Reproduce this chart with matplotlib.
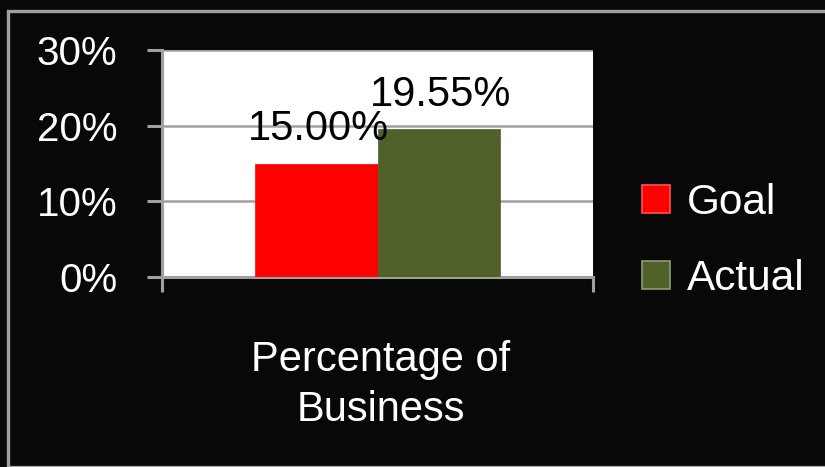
import matplotlib

matplotlib.use("Agg")
import matplotlib.pyplot as plt
from matplotlib.patches import Patch, Rectangle
from matplotlib.ticker import PercentFormatter

series = ["Goal", "Actual"]
values = [0.15, 0.1955]
value_labels = ["15.00%", "19.55%"]
category = "Percentage of\nBusiness"
colors = ["#ff0000", "#4f6128"]

FONT = ["Liberation Sans", "DejaVu Sans"]
BG = "#080808"
GRAY = "#a0a0a0"

W, H = 825, 467
fig = plt.figure(figsize=(W / 100, H / 100), dpi=100, facecolor=BG)

# outer slide frame
fig.patches.append(
    Rectangle((8 / W, 0), 1, 1 - 11 / H, transform=fig.transFigure,
              fill=False, edgecolor=GRAY, linewidth=2.4, zorder=0)
)

ax = fig.add_axes([162 / W, 1 - 277 / H, (593 - 162) / W, (277 - 50) / H])
ax.set_facecolor("white")

bar_w = 0.285
offsets = [-bar_w / 2, bar_w / 2]
for off, v, c, lab in zip(offsets, values, colors, value_labels):
    ax.bar(off, v, width=bar_w, color=c, edgecolor=c, linewidth=0.5, zorder=3)
    ax.annotate(lab, (off, v), xytext=(2, 23), textcoords="offset pixels",
                ha="center", va="baseline", fontsize=30, family=FONT,
                color="black", zorder=4, annotation_clip=False)

ax.set_xlim(-0.5, 0.5)
ax.set_ylim(0, 0.3)
ax.set_yticks([0, 0.1, 0.2, 0.3])
ax.yaxis.set_major_formatter(PercentFormatter(1.0, decimals=0))
ax.set_xticks([-0.5, 0.5])
ax.set_xticklabels(["", ""])

ax.grid(axis="y", color=GRAY, linewidth=1.8, zorder=1)
for side in ["top", "right"]:
    ax.spines[side].set_visible(False)
for side in ["left", "bottom"]:
    ax.spines[side].set_color(GRAY)
    ax.spines[side].set_linewidth(2.2)

ax.tick_params(axis="y", direction="out", length=11, width=2.2, color=GRAY,
               pad=21, labelcolor="white", labelsize=29)
ax.tick_params(axis="x", direction="out", length=11, width=2.2, color=GRAY)
for t in ax.get_yticklabels():
    t.set_family(FONT)

fig.text(381 / W, 1 - 385 / H, category, ha="center", va="center",
         fontsize=30, family=FONT, color="white", linespacing=1.34)

handles = [
    Patch(facecolor=colors[0], edgecolor="#ff5050", linewidth=1.2, label=series[0]),
    Patch(facecolor=colors[1], edgecolor="#8e9c76", linewidth=1.2, label=series[1]),
]
leg = fig.legend(handles=handles, loc="center left",
                 bbox_to_anchor=(642 / W, 1 - 241 / H), frameon=False,
                 borderpad=0, borderaxespad=0, handlelength=0.65,
                 handleheight=0.65, handletextpad=0.4, labelspacing=0.85,
                 prop={"family": FONT, "size": 30.5})
for t in leg.get_texts():
    t.set_color("white")

fig.savefig("out.png", dpi=100, facecolor=BG)
